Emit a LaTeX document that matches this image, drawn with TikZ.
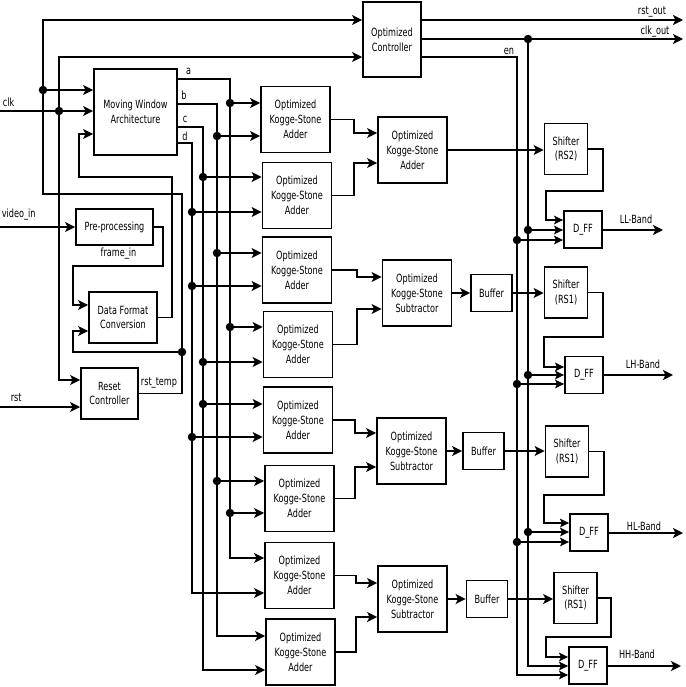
\documentclass[tikz,border=0pt]{standalone}
\usepackage{fontspec}
\setmainfont[FakeStretch=0.72]{DejaVu Sans}
\usetikzlibrary{arrows.meta}
\begin{document}
\begin{tikzpicture}[x=1pt,y=-1pt,
  line width=1.8pt,
  blk/.style={draw, line width=1.8pt, align=center, inner sep=0pt, font=\fontsize{11.3}{14.8}\selectfont},
  ks/.style={blk, minimum width=69pt, minimum height=66pt},
  shf/.style={blk, minimum width=43pt, minimum height=51pt},
  bufb/.style={blk, minimum width=41pt, minimum height=37pt},
  dffb/.style={blk, minimum width=38pt, minimum height=37pt},
  lbl/.style={inner sep=0pt, font=\fontsize{11.3}{14.8}\selectfont},
  arr/.style={-{Stealth[length=10pt,width=10pt,inset=2.5pt]}},
  sarr/.style={-{Stealth[length=9pt,width=8.5pt,inset=2pt]}},
  dot/.style={circle, fill, inner sep=0pt, minimum size=8.5pt},
]
\useasboundingbox (0,0) rectangle (685,687);

% ---------- blocks ----------
\node[blk, minimum width=58pt, minimum height=75pt] (ctrl) at (392,39.5) {Optimized\\Controller};
\node[blk, minimum width=83pt, minimum height=86pt] (mw) at (135.5,112) {Moving Window\\Architecture};
\node[blk, minimum width=77pt, minimum height=36pt] (pre) at (114.5,227) {Pre-processing};
\node[blk, minimum width=68pt, minimum height=51pt] (dfc) at (123,317.5) {Data Format\\Conversion};
\node[blk, minimum width=57pt, minimum height=51pt] (rc) at (109.5,393.5) {Reset\\Controller};

\node[ks] (add1) at (295.5,119.5) {Optimized\\Kogge-Stone\\Adder};
\node[ks] (add2) at (297,195.5) {Optimized\\Kogge-Stone\\Adder};
\node[ks] (add3) at (297,270) {Optimized\\Kogge-Stone\\Adder};
\node[ks] (add4) at (298,344.5) {Optimized\\Kogge-Stone\\Adder};
\node[ks] (add5) at (298,420) {Optimized\\Kogge-Stone\\Adder};
\node[ks] (add6) at (299.5,498.5) {Optimized\\Kogge-Stone\\Adder};
\node[ks] (add7) at (299.5,575.5) {Optimized\\Kogge-Stone\\Adder};
\node[ks] (add8) at (300.5,652) {Optimized\\Kogge-Stone\\Adder};

\node[ks] (addR) at (412.5,150) {Optimized\\Kogge-Stone\\Adder};
\node[ks] (sub1) at (417,293) {Optimized\\Kogge-Stone\\Subtractor};
\node[ks] (sub2) at (411.5,451) {Optimized\\Kogge-Stone\\Subtractor};
\node[ks] (sub3) at (412.5,599) {Optimized\\Kogge-Stone\\Subtractor};

\node[bufb] (buf1) at (491.5,293) {Buffer};
\node[bufb] (buf2) at (483.5,451) {Buffer};
\node[bufb] (buf3) at (487,599) {Buffer};

\node[shf] (sh1) at (566,149) {Shifter\\(RS2)};
\node[shf] (sh2) at (566,292.5) {Shifter\\(RS1)};
\node[shf] (sh3) at (567,451.5) {Shifter\\(RS1)};
\node[shf] (sh4) at (575.5,598) {Shifter\\(RS1)};

\node[dffb] (dff1) at (583,229.5) {D\_FF};
\node[dffb] (dff2) at (584,375) {D\_FF};
\node[dffb] (dff3) at (589,532.5) {D\_FF};
\node[dffb] (dff4) at (588,665.5) {D\_FF};

% ---------- free ends ----------
\coordinate (clkin) at (0,111);
\coordinate (vin) at (0,227);
\coordinate (rstin) at (0,407);
\coordinate (rsto) at (683,20);
\coordinate (clko) at (683,39);
\coordinate (llo) at (663,230);
\coordinate (lho) at (673,375);
\coordinate (hlo) at (683,533);
\coordinate (hho) at (681,666);

% ---------- left side ----------
\node[dot] (jr1) at (43,90) {};
\node[dot] (jc1) at (59,111) {};
\node[dot] (jr2) at (182,352) {};

\draw[arr] (clkin) -- (mw.west |- clkin);
\draw[arr] (jc1.center) |- (ctrl.west |- 0,57);
\draw[arr] (jc1.center) |- (rc.west |- 0,380);
\draw[arr] (rstin) -- (rc.west |- rstin);
\draw[arr] (rc.east) -| (182,194) -| (43,20) -- (ctrl.west |- 0,20);
\draw[arr] (jr1.center) -- (mw.west |- jr1);
\draw[arr] (jr2.center) -| (73,331) -- (dfc.west |- 0,331);
\draw[arr] (vin) -- (pre.west |- vin);
\draw[arr] (pre.east) -| (163,266) -| (73,305) -- (dfc.west |- 0,305);
\draw[arr] (dfc.east) -| (172,177) -| (79,134) -- (mw.west |- 0,134);

\node[lbl, anchor=south west] (tclk) at (2,108) {clk};
\node[lbl, anchor=south west] (tvin) at (1,221) {video\_in};
\node[lbl, anchor=south west] (trst) at (10,403) {rst};
\node[lbl] (tfr) at (118.5,254) {frame\_in};
\node[lbl] (trt) at (159,383) {rst\_temp};

% ---------- bus a b c d ----------
\draw[arr] (mw.east |- 0,79) -| (230,558) -- (add7.west |- 0,558);
\draw[arr] (mw.east |- 0,104) -| (217,636) -- (add8.west |- 0,636);
\draw[arr] (mw.east |- 0,127) -| (203,670) -- (add8.west |- 0,670);
\draw[arr] (mw.east |- 0,143) -| (192,593) -- (add7.west |- 0,593);
\foreach \x/\y/\t in {230/103/add1, 217/136/add1, 203/177/add2, 192/212/add2,
  217/253/add3, 192/286/add3, 230/327/add4, 203/362/add4, 203/404/add5,
  192/437/add5, 217/481/add6, 230/513/add6} {
  \node[dot] (bj\y) at (\x,\y) {};
  \draw[arr] (bj\y.center) -- (\t.west |- bj\y);
}
\node[lbl] (ta) at (188.5,71.5) {a};
\node[lbl] (tb) at (184,95.5) {b};
\node[lbl] (tc) at (185,119) {c};
\node[lbl] (td) at (185,136) {d};

% ---------- adder tree ----------
\draw[arr] (add1.east) -| (354,133) -- (addR.west |- 0,133);
\draw[arr] (add2.east) -| (354,163) -- (addR.west |- 0,163);
\draw[arr] (add3.east) -| (357,277) -- (sub1.west |- 0,277);
\draw[arr] (add4.east) -| (357,309) -- (sub1.west |- 0,309);
\draw[arr] (add5.east) -| (355,433) -- (sub2.west |- 0,433);
\draw[arr] (add6.east) -| (355,467) -- (sub2.west |- 0,467);
\draw[arr] (add7.east) -| (356,583) -- (sub3.west |- 0,583);
\draw[arr] (add8.east) -| (356,617) -- (sub3.west |- 0,617);

\draw[arr] (sub1.east) -- (buf1.west |- sub1.east);
\draw[arr] (sub2.east) -- (buf2.west |- sub2.east);
\draw[arr] (sub3.east) -- (buf3.west |- sub3.east);

% ---------- controller outputs ----------
\draw[arr] (ctrl.east |- rsto) -- (rsto);
\draw[arr] (ctrl.east |- clko) -- (clko);
\node[dot] (jclk) at (528,39) {};
\draw[sarr] (ctrl.east |- 0,57) -| (517,675) -- (dff4.west |- 0,675);
\draw[sarr] (jclk.center) -- (528,666) -- (dff4.west |- 0,666);
\node[lbl] (trsto) at (652,12) {rst\_out};
\node[lbl] (tclko) at (655,32) {clk\_out};
\node[lbl] (ten) at (509,51) {en};

% ---------- shifters ----------
\draw[arr] (addR.east) -- (sh1.west |- addR.east);
\draw[arr] (buf1.east) -- (sh2.west |- buf1.east);
\draw[arr] (buf2.east) -- (sh3.west |- buf2.east);
\draw[arr] (buf3.east) -- (sh4.west |- buf3.east);

\draw[sarr] (sh1.east) -| (603,191) -| (546,220) -- (dff1.west |- 0,220);
\draw[sarr] (sh2.east) -| (603,337) -| (544,367) -- (dff2.west |- 0,367);
\draw[sarr] (sh3.east) -| (604,495) -| (544,523) -- (dff3.west |- 0,523);
\draw[sarr] (sh4.east) -| (611,637) -| (546,657) -- (dff4.west |- 0,657);

% ---------- clk / en taps ----------
\foreach \y/\t in {230/dff1, 375/dff2, 532/dff3} {
  \node[dot] (cj\y) at (528,\y) {};
  \draw[sarr] (cj\y.center) -- (\t.west |- cj\y);
}
\foreach \y/\t in {240/dff1, 384/dff2, 542/dff3} {
  \node[dot] (ej\y) at (517,\y) {};
  \draw[sarr] (ej\y.center) -- (\t.west |- ej\y);
}

% ---------- band outputs ----------
\draw[arr] (dff1.east |- llo) -- (llo);
\draw[arr] (dff2.east |- lho) -- (lho);
\draw[arr] (dff3.east |- hlo) -- (hlo);
\draw[arr] (dff4.east |- hho) -- (hho);
\node[lbl] (tll) at (636,219) {LL-Band};
\node[lbl] (tlh) at (643,364) {LH-Band};
\node[lbl] (thl) at (644,526) {HL-Band};
\node[lbl] (thh) at (637,654) {HH-Band};
\end{tikzpicture}
\end{document}
